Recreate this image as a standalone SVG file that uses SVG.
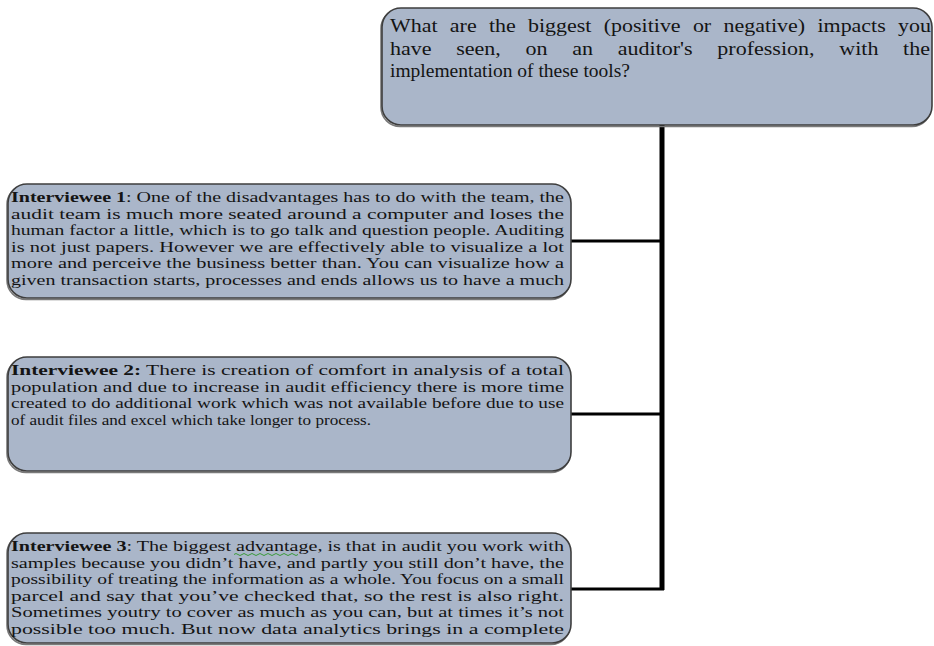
<svg xmlns="http://www.w3.org/2000/svg" width="934" height="646" viewBox="0 0 934 646">
  <style>
    .box { fill: #aab6c9; stroke: #3e3e3e; stroke-width: 1.6; }
    .shadow { fill: none; stroke: #7a7a7a; stroke-width: 1.6; }
    .q { font-family: "Liberation Serif", "Times New Roman", serif; font-size: 19.5px; fill: #141414; }
    .t { font-family: "Liberation Serif", "Times New Roman", serif; font-size: 15.4px; fill: #141414; }
    .b { font-weight: bold; }
    .trunk { stroke: #000; stroke-width: 5; fill: none; }
    .branch { stroke: #000; stroke-width: 3; fill: none; }
  </style>

  <!-- connectors: trunk from the question down, one branch per answer -->
  <g id="connectors">
    <line class="trunk" x1="662" y1="125" x2="662" y2="590"/>
    <line class="branch" x1="570" y1="241" x2="664" y2="241"/>
    <line class="branch" x1="570" y1="414" x2="664" y2="414"/>
    <line class="branch" x1="570" y1="589" x2="664" y2="589"/>
  </g>

  <!-- question -->
  <g id="node-question">
    <rect class="shadow" x="381" y="9.5" width="550" height="117" rx="19"/>
    <rect class="box" x="382" y="8" width="550" height="117" rx="19"/>
    <text class="q" x="390" y="32" word-spacing="6" textLength="541" lengthAdjust="spacingAndGlyphs">What are the biggest (positive or negative) impacts you</text>
    <text class="q" x="390" y="54.5" word-spacing="17" textLength="540" lengthAdjust="spacingAndGlyphs">have seen, on an auditor's profession, with the</text>
    <text class="q" x="390" y="77" textLength="240" lengthAdjust="spacingAndGlyphs">implementation of these tools?</text>
  </g>

  <!-- answer 1 -->
  <g id="node-interviewee-1">
    <rect class="shadow" x="7" y="185.5" width="563" height="114" rx="19"/>
    <rect class="box" x="8" y="184" width="563" height="114" rx="19"/>
    <text class="t" x="11" y="202" textLength="553" lengthAdjust="spacingAndGlyphs"><tspan class="b">Interviewee 1</tspan>: One of the disadvantages has to do with the team, the</text>
    <text class="t" x="11" y="218.5" textLength="553" lengthAdjust="spacingAndGlyphs">audit team is much more seated around a computer and loses the</text>
    <text class="t" x="11" y="235" textLength="553" lengthAdjust="spacingAndGlyphs">human factor a little, which is to go talk and question people. Auditing</text>
    <text class="t" x="11" y="251.5" textLength="553" lengthAdjust="spacingAndGlyphs">is not just papers. However we are effectively able to visualize a lot</text>
    <text class="t" x="11" y="268" textLength="553" lengthAdjust="spacingAndGlyphs">more and perceive the business better than. You can visualize how a</text>
    <text class="t" x="11" y="284.5" textLength="553" lengthAdjust="spacingAndGlyphs">given transaction starts, processes and ends allows us to have a much</text>
  </g>

  <!-- answer 2 -->
  <g id="node-interviewee-2">
    <rect class="shadow" x="7" y="358.5" width="563" height="114" rx="19"/>
    <rect class="box" x="8" y="357" width="563" height="114" rx="19"/>
    <text class="t" x="11" y="375" textLength="553" lengthAdjust="spacingAndGlyphs"><tspan class="b">Interviewee 2:</tspan> There is creation of comfort in analysis of a total</text>
    <text class="t" x="11" y="391.5" textLength="553" lengthAdjust="spacingAndGlyphs">population and due to increase in audit efficiency there is more time</text>
    <text class="t" x="11" y="408" textLength="553" lengthAdjust="spacingAndGlyphs">created to do additional work which was not available before due to use</text>
    <text class="t" x="11" y="424.5" textLength="360" lengthAdjust="spacingAndGlyphs">of audit files and excel which take longer to process.</text>
  </g>

  <!-- answer 3 -->
  <g id="node-interviewee-3">
    <rect class="shadow" x="7" y="534.5" width="563" height="110" rx="19"/>
    <rect class="box" x="8" y="533" width="563" height="110" rx="19"/>
    <text class="t" x="11" y="551" textLength="553" lengthAdjust="spacingAndGlyphs"><tspan class="b">Interviewee 3</tspan>: The biggest advantage, is that in audit you work with</text>
    <path d="M234 554.5 q2 -2 4 0 t4 0 t4 0 t4 0 t4 0 t4 0 t4 0 t4 0 t4 0 t4 0 t4 0 t4 0 t4 0 t4 0 t4 0 t4 0" fill="none" stroke="#3a9a3a" stroke-width="1"/>
    <text class="t" x="11" y="567.5" textLength="553" lengthAdjust="spacingAndGlyphs">samples because you didn’t have, and partly you still don’t have, the</text>
    <text class="t" x="11" y="584" textLength="553" lengthAdjust="spacingAndGlyphs">possibility of treating the information as a whole. You focus on a small</text>
    <text class="t" x="11" y="600.5" textLength="553" lengthAdjust="spacingAndGlyphs">parcel and say that you’ve checked that, so the rest is also right.</text>
    <text class="t" x="11" y="617" textLength="553" lengthAdjust="spacingAndGlyphs">Sometimes youtry to cover as much as you can, but at times it’s not</text>
    <text class="t" x="11" y="633.5" textLength="553" lengthAdjust="spacingAndGlyphs">possible too much. But now data analytics brings in a complete</text>
  </g>
</svg>
